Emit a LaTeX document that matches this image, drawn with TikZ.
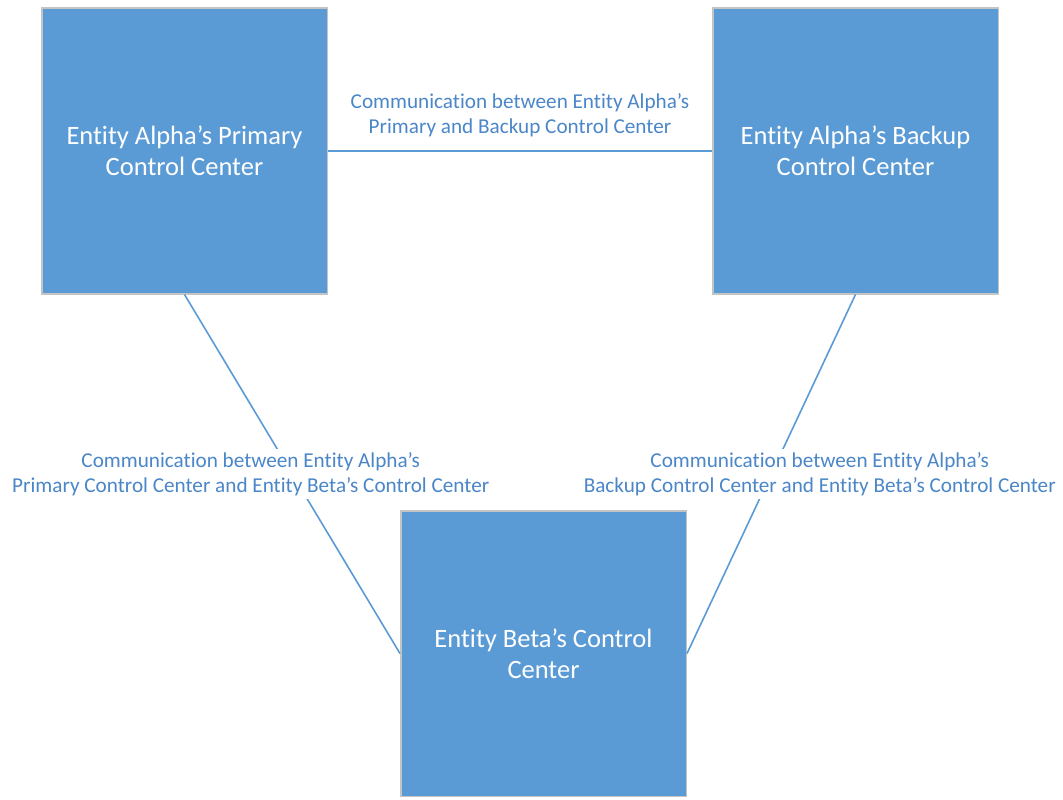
\documentclass[tikz,border=0pt]{standalone}
\usepackage{fontspec}
\setmainfont{Carlito}[Ligatures=NoCommon]
\usepackage{tikz}
\usetikzlibrary{positioning}
\definecolor{boxblue}{HTML}{5B9BD5}
\definecolor{boxrim}{HTML}{C4C4C4}
\definecolor{labelblue}{HTML}{4A86C8}
\tikzset{
  ccbox/.style={draw=boxrim, line width=1.5pt, fill=boxblue, text=white, minimum width=285.5pt, minimum height=285.5pt, inner sep=0pt, align=center, font=\fontsize{26.5}{31}\selectfont},
  commlink/.style={draw=boxblue, line width=1.6pt},
  commlabel/.style={text=labelblue, align=center, inner sep=3pt, font=\fontsize{21.2}{25}\selectfont}
}

\begin{document}
\begin{tikzpicture}[x=1pt, y=-1pt]
  \useasboundingbox (0,0) rectangle (1063,800);
  \node[ccbox] (alphaprim) at (184.5,151) {Entity Alpha’s Primary\\Control Center};
  \node[ccbox] (alphabkp) at (855.5,151) {Entity Alpha’s Backup\\Control Center};
  \node[ccbox] (beta) at (543.5,653.5) {Entity Beta’s Control\\Center};
  \draw[commlink] (alphaprim.east) -- (alphabkp.west) node[commlabel, midway, above=10pt] {Communication between Entity Alpha’s\\Primary and Backup Control Center};
  \draw[commlink] (alphaprim.south) -- (beta.west) node[commlabel, midway, xshift=-41.5pt, fill=white] {Communication between Entity Alpha’s\\Primary Control Center and Entity Beta’s Control Center};
  \draw[commlink] (alphabkp.south) -- (beta.east) node[commlabel, midway, xshift=48.5pt, fill=white] {Communication between Entity Alpha’s\\Backup Control Center and Entity Beta’s Control Center};
\end{tikzpicture}
\end{document}
